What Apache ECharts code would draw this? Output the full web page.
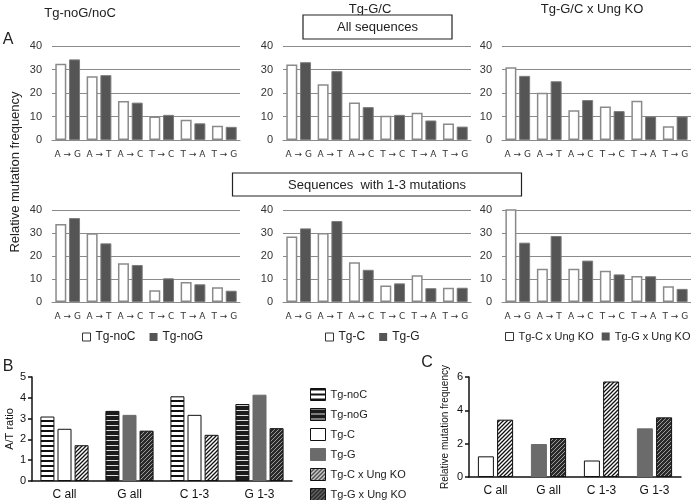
<!DOCTYPE html>
<html><head><meta charset="utf-8">
<script src="https://cdn.jsdelivr.net/npm/echarts/dist/echarts.min.js"></script>
<style>html,body{margin:0;padding:0;background:#fff}#c{width:691px;height:500px}</style>
</head><body><div id="c"></div>
<script>
// ---- Panel A categories and values ----
const mutCats = ['A → G','A → T','A → C','T → C','T → A','T → G'];
const rowAxisMax = 40, rowAxisStep = 10;
// Row 1: All sequences
const allNoC  = [32.4, 27.1, 16.6, 10.0, 8.6, 6.1];
const allNoG  = [34.3, 27.6, 15.9, 10.7, 7.1, 5.6];
const allC    = [32.1, 23.7, 16.0, 10.3, 11.6, 7.0];
const allG    = [33.1, 29.3, 14.0, 10.7, 8.3, 5.7];
const allCUng = [31.0, 20.1, 12.7, 14.3, 16.7, 5.9];
const allGUng = [27.3, 25.0, 17.0, 12.3, 10.0, 10.0];
// Row 2: Sequences with 1-3 mutations
const seqNoC  = [33.9, 29.9, 16.9, 5.1, 8.7, 6.4];
const seqNoG  = [36.5, 25.5, 16.1, 10.3, 7.7, 4.9];
const seqC    = [28.5, 30.0, 17.3, 7.2, 11.6, 6.2];
const seqG    = [32.0, 35.2, 14.0, 8.1, 6.0, 6.2];
const seqCUng = [46.0, 14.5, 14.5, 13.6, 11.3, 6.8];
const seqGUng = [25.8, 28.7, 18.0, 12.0, 11.2, 5.7];

// ---- Panel B (A/T ratio) ----
const bcCats = ['C all','G all','C 1-3','G 1-3'];
const bNoC  = [3.10, null, 4.07, null];
const bNoG  = [null, 3.37, null, 3.70];
const bC    = [2.51, null, 3.18, null];
const bG    = [null, 3.18, null, 4.15];
const bCUng = [1.72, null, 2.22, null];
const bGUng = [null, 2.42, null, 2.54];

// ---- Panel C (relative mutation frequency) ----
const cC    = [1.24, null, 0.99, null];
const cG    = [null, 1.98, null, 2.92];
const cCUng = [3.44, null, 5.73, null];
const cGUng = [null, 2.34, null, 3.58];

const FONT = 'Liberation Sans';

function pattern(kind){
  const s = kind.startsWith('stripe') ? 5 : 4;
  const cv = document.createElement('canvas'); cv.width = s; cv.height = s;
  const g = cv.getContext('2d');
  if (kind === 'stripeLight'){ g.fillStyle='#fff'; g.fillRect(0,0,s,s); g.fillStyle='#111'; g.fillRect(0,0,s,2); }
  else if (kind === 'stripeDark'){ g.fillStyle='#1c1c1c'; g.fillRect(0,0,s,s); g.fillStyle='#dcdcdc'; g.fillRect(0,0,s,1); }
  else {
    const dark = kind === 'hatchDark';
    g.fillStyle = dark ? '#2a2a2a' : '#fff'; g.fillRect(0,0,s,s);
    g.strokeStyle = dark ? '#9a9a9a' : '#111'; g.lineWidth = dark ? 1 : 1.3;
    g.beginPath();
    g.moveTo(0,s); g.lineTo(s,0);
    g.moveTo(-1,1); g.lineTo(1,-1);
    g.moveTo(s-1,s+1); g.lineTo(s+1,s-1);
    g.stroke();
  }
  return {image: cv, repeat: 'repeat'};
}
const P = {
  noC: {color: pattern('stripeLight'), borderColor:'#111', borderWidth:1},
  noG: {color: pattern('stripeDark'), borderColor:'#111', borderWidth:1},
  C:   {color: '#fff', borderColor:'#111', borderWidth:1},
  G:   {color: '#6b6b6b', borderColor:'#6b6b6b', borderWidth:1},
  CUng:{color: pattern('hatchLight'), borderColor:'#111', borderWidth:1},
  GUng:{color: pattern('hatchDark'), borderColor:'#111', borderWidth:1}
};
const rowWhite = {color:'#fff', borderColor:'#8a8a8a', borderWidth:1.5};
const rowDark  = {color:'#555', borderColor:'#7c7c7c', borderWidth:1};

const grids = [], xAxes = [], yAxes = [], series = [];
const rowLefts = [52, 283, 502], rowWidths = [188, 188, 189];
const rowTops = [46, 210], rowHeights = [94, 92];
const rowData = [
  [[allNoC, allNoG, 'Tg-noC','Tg-noG'], [allC, allG, 'Tg-C','Tg-G'], [allCUng, allGUng, 'Tg-C x Ung KO','Tg-G x Ung KO']],
  [[seqNoC, seqNoG, 'Tg-noC','Tg-noG'], [seqC, seqG, 'Tg-C','Tg-G'], [seqCUng, seqGUng, 'Tg-C x Ung KO','Tg-G x Ung KO']]
];
for (let r = 0; r < 2; r++) for (let p = 0; p < 3; p++){
  const gi = grids.length;
  grids.push({left: rowLefts[p], top: rowTops[r], width: rowWidths[p], height: rowHeights[r], outerBoundsMode:'none', containLabel:false});
  xAxes.push({type:'category', gridIndex: gi, data: mutCats,
    axisLine:{show:true, lineStyle:{color:'#8a8a8a', width:1}}, axisTick:{show:false},
    axisLabel:{interval:0, fontSize:9, color:'#333', margin:10, fontFamily: 'DejaVu Sans'}});
  yAxes.push({type:'value', gridIndex: gi, min:0, max: rowAxisMax, interval: rowAxisStep,
    axisLine:{show:false}, axisTick:{show:false},
    splitLine:{show:true, lineStyle:{color:'#8a8a8a', width:1}},
    axisLabel:{fontSize:11, color:'#333', margin:10, fontFamily: FONT}});
  const d = rowData[r][p];
  series.push({type:'bar', name:d[2], xAxisIndex:gi, yAxisIndex:gi, data:d[0], barWidth:11, barGap:'25%', itemStyle: rowWhite, clip:true, silent:true});
  series.push({type:'bar', name:d[3], xAxisIndex:gi, yAxisIndex:gi, data:d[1], barWidth:11, barGap:'25%', itemStyle: rowDark, clip:true, silent:true});
}

// Panel B grid
const gB = grids.length;
grids.push({left:32, top:377, width:260, height:104, outerBoundsMode:'none', containLabel:false});
xAxes.push({type:'category', gridIndex:gB, data:bcCats,
  axisLine:{lineStyle:{color:'#111', width:1.5}}, axisTick:{alignWithLabel:true, length:4, lineStyle:{color:'#111', width:1.5}},
  axisLabel:{fontSize:12, color:'#111', margin:8, fontFamily: FONT}});
yAxes.push({type:'value', gridIndex:gB, min:0, max:5, interval:1,
  axisLine:{show:true, lineStyle:{color:'#111', width:1.5}}, axisTick:{show:true, length:4, lineStyle:{color:'#111', width:1.5}},
  splitLine:{show:false}, axisLabel:{fontSize:11, color:'#111', margin:6, fontFamily: FONT},
  name:'A/T ratio', nameLocation:'middle', nameGap:17, nameTextStyle:{fontSize:11, color:'#111', fontFamily: FONT}});
const bSeries = [[bNoC,'Tg-noC','noC','s1'],[bNoG,'Tg-noG','noG','s1'],[bC,'Tg-C','C','s2'],[bG,'Tg-G','G','s2'],[bCUng,'Tg-C x Ung KO','CUng','s3'],[bGUng,'Tg-G x Ung KO','GUng','s3']];
bSeries.forEach(b => series.push({type:'bar', name:b[1], xAxisIndex:gB, yAxisIndex:gB, data:b[0], stack:b[3], barWidth:14, barGap:'22%', itemStyle:P[b[2]], silent:true}));

// Panel C grid
const gC = grids.length;
grids.push({left:469, top:377, width:212, height:100, outerBoundsMode:'none', containLabel:false});
xAxes.push({type:'category', gridIndex:gC, data:bcCats,
  axisLine:{lineStyle:{color:'#111', width:1.5}}, axisTick:{alignWithLabel:true, length:4, lineStyle:{color:'#111', width:1.5}},
  axisLabel:{fontSize:12, color:'#111', margin:8, fontFamily: FONT}});
yAxes.push({type:'value', gridIndex:gC, min:0, max:6, interval:2,
  axisLine:{show:true, lineStyle:{color:'#111', width:1.5}}, axisTick:{show:true, length:4, lineStyle:{color:'#111', width:1.5}},
  splitLine:{show:false}, axisLabel:{fontSize:11, color:'#111', margin:6, fontFamily: FONT},
  name:'Relative mutation frequency', nameLocation:'middle', nameGap:19, nameTextStyle:{fontSize:10, color:'#111', fontFamily: FONT}});
const cSeries = [[cC,'Tg-C','C','q1'],[cG,'Tg-G','G','q1'],[cCUng,'Tg-C x Ung KO','CUng','q2'],[cGUng,'Tg-G x Ung KO','GUng','q2']];
cSeries.forEach(b => series.push({type:'bar', name:b[1], xAxisIndex:gC, yAxisIndex:gC, data:b[0], stack:b[3], barWidth:16, barGap:'20%', itemStyle:P[b[2]], silent:true}));

const sq = (name, dark) => ({name, itemStyle: dark ? {color:'#555', borderColor:'#555', borderWidth:0} : {color:'#fff', borderColor:'#333', borderWidth:1}});
const legendCommon = {orient:'horizontal', icon:'rect', itemWidth:8, itemHeight:8, itemGap:14, selectedMode:false, width:260,
  textStyle:{fontSize:12, color:'#222', fontFamily: FONT}, padding:0};
const legends = [
  Object.assign({left:82, top:331, data:[sq('Tg-noC',false), sq('Tg-noG',true)]}, legendCommon),
  Object.assign({left:325, top:331, data:[sq('Tg-C',false), sq('Tg-G',true)]}, legendCommon),
  Object.assign({}, legendCommon, {left:505, top:331, itemGap:8, textStyle:{fontSize:11, color:'#222', fontFamily: FONT},
    data:[sq('Tg-C x Ung KO',false), sq('Tg-G x Ung KO',true)]}),
  {orient:'vertical', left:310, top:388, width:140, height:200, icon:'rect', itemWidth:15, itemHeight:12, itemGap:7, selectedMode:false, padding:0,
   textStyle:{fontSize:11, color:'#222', fontFamily: FONT},
   data: bSeries.map(b => ({name:b[1], itemStyle:P[b[2]]}))}
];

function txt(x, y, text, size, rot){
  const el = {type:'text', x, y, style:{text, fontSize:size, fontFamily: FONT, fill:'#222',
    align:'center', verticalAlign:'middle', textAlign:'center', textVerticalAlign:'middle'}};
  if (rot) el.rotation = rot;
  return el;
}
const graphics = [
  txt(80, 13, 'Tg-noG/noC', 13),
  txt(370, 9, 'Tg-G/C', 13),
  txt(592, 9, 'Tg-G/C x Ung KO', 13),
  {type:'rect', shape:{x:303, y:15, width:149, height:24}, style:{fill:'#fff', stroke:'#222', lineWidth:1.2}},
  txt(377.5, 27, 'All sequences', 13),
  {type:'rect', shape:{x:232.5, y:173, width:289, height:23}, style:{fill:'#fff', stroke:'#222', lineWidth:1.2}},
  txt(377, 185, 'Sequences  with 1-3 mutations', 13),
  txt(8, 40, 'A', 16),
  txt(8, 367, 'B', 16),
  txt(427, 363, 'C', 16),
  txt(15, 172, 'Relative mutation frequency', 13, Math.PI/2)
];

const chart = echarts.init(document.getElementById('c'));
chart.setOption({
  animation:false, backgroundColor:'#fff',
  grid: grids, xAxis: xAxes, yAxis: yAxes, series, legend: legends, graphic: graphics
});
</script></body></html>
